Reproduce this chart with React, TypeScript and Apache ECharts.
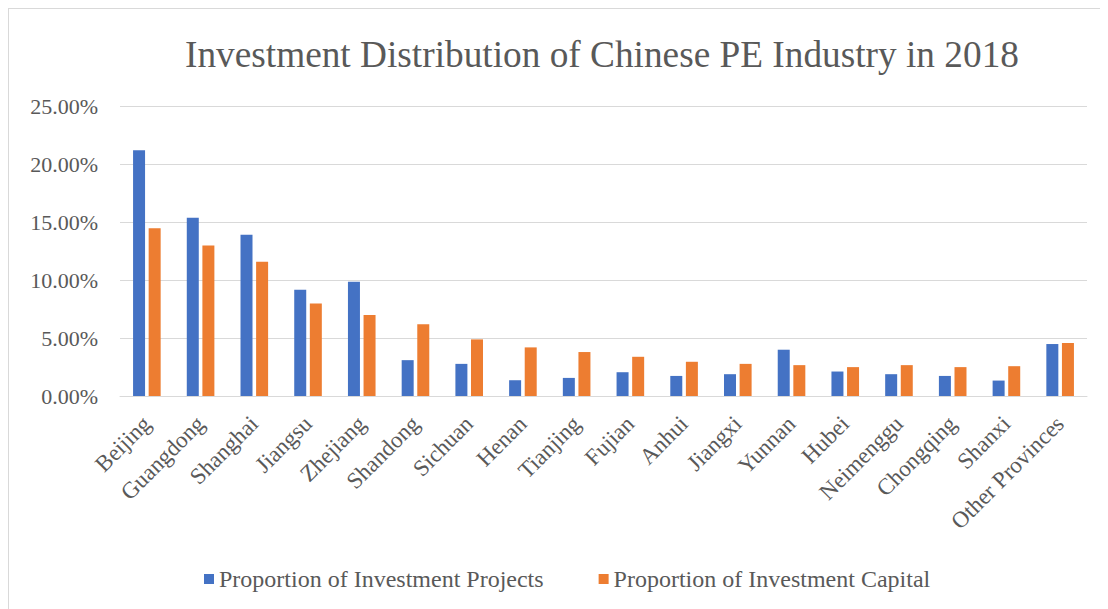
import React, { useEffect, useRef } from "react";
import * as echarts from "echarts";

const categories = [
  "Beijing", "Guangdong", "Shanghai", "Jiangsu", "Zhejiang", "Shandong",
  "Sichuan", "Henan", "Tianjing", "Fujian", "Anhui", "Jiangxi", "Yunnan",
  "Hubei", "Neimenggu", "Chongqing", "Shanxi", "Other Provinces",
];
const projects = [21.19, 15.36, 13.9, 9.16, 9.85, 3.09, 2.77, 1.36, 1.56, 2.05, 1.73, 1.88, 3.99, 2.11, 1.88, 1.73, 1.33, 4.48];
const capital = [14.47, 12.98, 11.57, 7.98, 6.98, 6.18, 4.88, 4.19, 3.79, 3.38, 2.95, 2.77, 2.66, 2.49, 2.66, 2.49, 2.57, 4.57];
const seriesNames = ["Proportion of Investment Projects", "Proportion of Investment Capital"];
const colors = ["#4472C4", "#ED7D31"];

const FONT = "Liberation Serif";

export default function App() {
  const ref = useRef<HTMLDivElement>(null);
  useEffect(() => {
    if (!ref.current) return;
    const chart = echarts.init(ref.current, null, { renderer: "svg" });
    chart.setOption({
      animation: false,
      textStyle: { fontFamily: FONT },
      title: {
        text: "Investment Distribution of Chinese PE Industry in 2018",
        left: 171,
        top: 22,
        textStyle: { fontFamily: FONT, fontSize: 37.3, fontWeight: "normal", color: "#595959" },
      },
      legend: {
        bottom: 13,
        left: 190,
        itemWidth: 10,
        itemHeight: 10,
        itemGap: 55,
        icon: "rect",
        textStyle: { fontFamily: FONT, fontSize: 24, color: "#595959" },
        data: seriesNames,
      },
      grid: { left: 111, right: 21, top: 97, bottom: 213, containLabel: false },
      xAxis: {
        type: "category",
        data: categories,
        axisTick: { show: false },
        axisLine: { lineStyle: { color: "#d9d9d9", width: 1 } },
        axisLabel: { rotate: 45, interval: 0, margin: 24, fontFamily: FONT, fontSize: 23, color: "#595959" },
      },
      yAxis: {
        type: "value",
        min: 0,
        max: 25,
        interval: 5,
        axisLine: { show: false },
        axisTick: { show: false },
        splitLine: { lineStyle: { color: "#d9d9d9", width: 1 } },
        axisLabel: {
          margin: 22,
          fontFamily: FONT,
          fontSize: 22,
          color: "#595959",
          formatter: (v: number) => v.toFixed(2) + "%",
        },
      },
      series: [
        { name: seriesNames[0], type: "bar", data: projects, barWidth: 12, barGap: "30%", itemStyle: { color: colors[0] } },
        { name: seriesNames[1], type: "bar", data: capital, barWidth: 12, barGap: "30%", itemStyle: { color: colors[1] } },
      ],
    });
    return () => chart.dispose();
  }, []);
  return (
    <div style={{ width: 1100, height: 601, borderTop: "1px solid #d9d9d9", borderLeft: "1px solid #d9d9d9", boxSizing: "border-box", background: "#fff" }}>
      <div ref={ref} style={{ width: 1099, height: 600 }} />
    </div>
  );
}
